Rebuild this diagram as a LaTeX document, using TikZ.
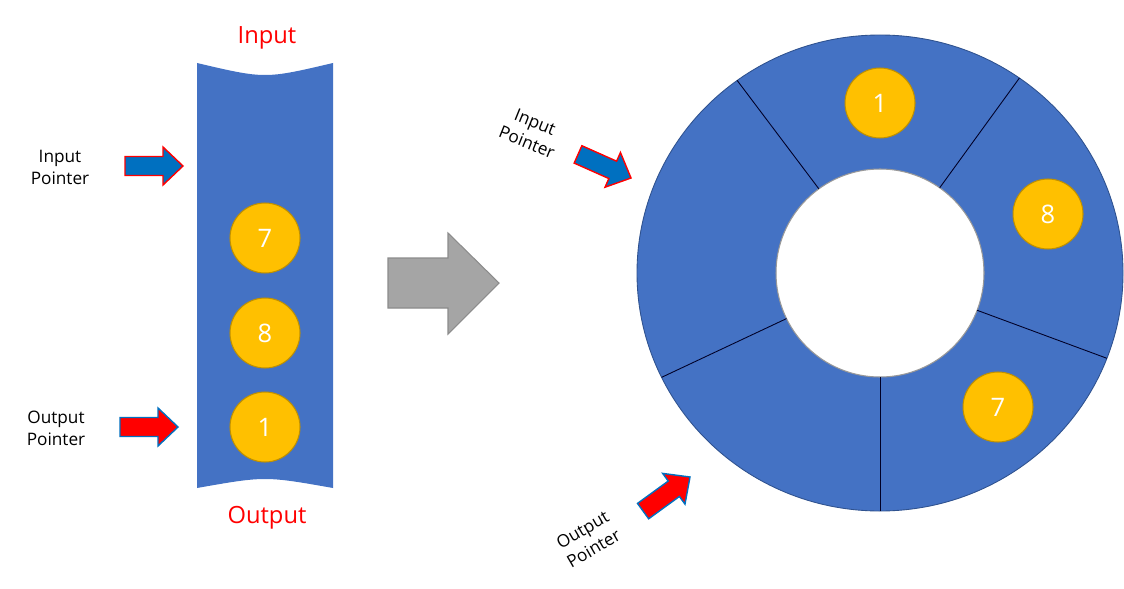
\documentclass[tikz,border=0pt]{standalone}
\usepackage{fontspec}
\setmainfont{Open Sans}
\usepackage{tikz}
\usetikzlibrary{calc}
\definecolor{tubeblue}{HTML}{4472C4}
\definecolor{ptrblue}{HTML}{0070C0}
\definecolor{gold}{HTML}{FFC000}
\definecolor{goldline}{HTML}{BF9000}
\definecolor{ringline}{HTML}{2F528F}
\definecolor{shiftgray}{HTML}{A5A5A5}
\definecolor{shiftline}{HTML}{8C8C8C}

\tikzset{
  ball/.style={circle, fill=gold, draw=goldline, line width=0.6pt, minimum size=1.4cm, inner sep=0pt, text=white, font=\fontsize{14.5}{14.5}\selectfont},
  ptrlabel/.style={align=center, inner sep=1pt, font=\fontsize{9.8}{12.5}\selectfont},
  endlabel/.style={text=red, font=\fontsize{13.5}{15}\selectfont},
  inptr/.style={fill=ptrblue, draw=red, line width=0.8pt},
  outptr/.style={fill=red, draw=ptrblue, line width=0.8pt},
  divider/.style={draw=black!85!blue, line width=0.5pt},
  blockarrow/.pic={\path[pic actions] (-58,-9.5) -- (-20,-9.5) -- (-20,-19) -- (0,0) -- (-20,19) -- (-20,9.5) -- (-58,9.5) -- cycle;}
}

\begin{document}
\begin{tikzpicture}[x=0.02cm, y=-0.02cm]
            \fill[white] (0,0) rectangle (1124,588);
            \useasboundingbox (0,0) rectangle (1124,588);

            % the queue as a tube
            \fill[tubeblue] (197,63) .. controls (265,79) .. (333,63) -- (333,488) .. controls (265,476) .. (197,488) -- cycle;
            \node[endlabel] (inlbl) at (267,38) {Input};
            \node[endlabel] (outlbl) at (267,518) {Output};
            \node[ball] (t7) at (265,238) {7};
            \node[ball] (t8) at (265,333) {8};
            \node[ball] (t1) at (265,427) {1};

            \node[ptrlabel] (tinlbl) at (60,167) {Input\\Pointer};
            \node[ptrlabel] (toutlbl) at (56,428) {Output\\Pointer};
            \pic[inptr] at (183,166) {blockarrow};
            \pic[outptr] at (178,427) {blockarrow};

            % big grey arrow
            \draw[fill=shiftgray, draw=shiftline, line width=0.6pt] (388,258) -- (448,258) -- (448,233) -- (499,283) -- (448,334) -- (448,308) -- (388,308) -- cycle;

            % the ring buffer
            \coordinate (hub) at (880,273);
            \path[fill=tubeblue, even odd rule] (hub) ellipse [x radius=243, y radius=238] (hub) circle [radius=104];
            \draw[ringline, line width=0.5pt] (hub) ellipse [x radius=243, y radius=238];
            \draw[gray!80, line width=0.6pt] (hub) circle [radius=104];
            \foreach \a in {-126,-55,21,90,-206}
                \draw[divider] ($(hub)+(\a:104)$) -- ($(hub)+(\a:243 and 238)$);
            \node[ball] (r1) at (880,103) {1};
            \node[ball] (r8) at (1048,214) {8};
            \node[ball] (r7) at (998,407) {7};

            \node[ptrlabel, rotate=-22] (rinlbl) at (531,132) {Input\\Pointer};
            \node[ptrlabel, rotate=30] (routlbl) at (588,539) {Output\\Pointer};
            \pic[inptr, rotate=-24] at (631,178) {blockarrow};
            \pic[outptr, rotate=36] at (690,477) {blockarrow};
\end{tikzpicture}
\end{document}
